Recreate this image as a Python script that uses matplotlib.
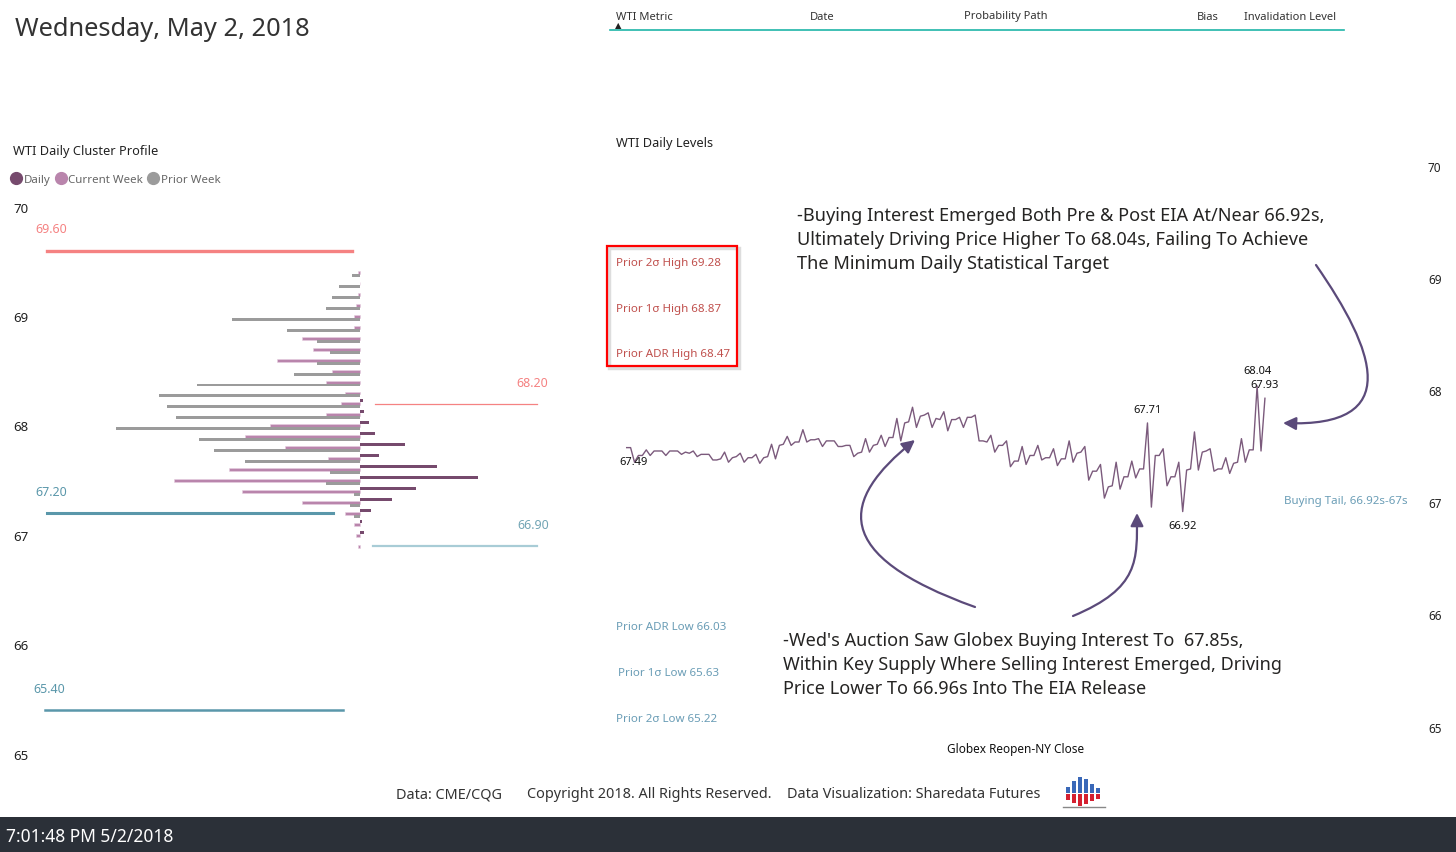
import matplotlib
matplotlib.use('Agg')
import matplotlib.pyplot as plt
import matplotlib.transforms as mtransforms
from matplotlib.patches import FancyArrowPatch, Rectangle
from matplotlib.path import Path
from matplotlib.lines import Line2D
import numpy as np

plt.rcParams['font.family'] = ['Noto Sans', 'DejaVu Sans']

W, H, DPI = 1456, 852, 100

# ---------------- data ----------------
profile_levels = [69.4, 69.3, 69.2, 69.1, 69.0, 68.9, 68.8, 68.7, 68.6, 68.5, 68.4, 68.3, 68.2,
                  68.1, 68.0, 67.9, 67.8, 67.7, 67.6, 67.5, 67.4, 67.3, 67.2, 67.1, 67.0, 66.9]
daily_volume = [0, 0, 0, 0, 0, 0, 0, 0, 0, 0, 0, 0, 3,
                4, 9, 15, 45, 19, 77, 118, 56, 32, 11, 2, 4, 0]
current_week_volume = [2, 0, 2, 4, 6, 6, 58, 47, 83, 28, 34, 15, 19,
                       34, 90, 115, 75, 32, 131, 186, 118, 58, 15, 6, 4, 2]
prior_week_volume = [8, 21, 28, 34, 128, 73, 43, 30, 43, 66, 163, 201, 193,
                     184, 244, 161, 146, 115, 30, 34, 6, 10, 6, 0, 0, 0]

profile_ref_values = [69.60, 68.20, 67.20, 66.90, 65.40]
profile_ticks = [70, 69, 68, 67, 66, 65]

wti_prices = [67.49, 67.49, 67.36, 67.42, 67.42, 67.47, 67.42, 67.46, 67.46, 67.46,
              67.42, 67.46, 67.46, 67.46, 67.43, 67.45, 67.44, 67.46, 67.41, 67.43,
              67.43, 67.43, 67.38, 67.38, 67.39, 67.45, 67.36, 67.40, 67.41, 67.44,
              67.36, 67.40, 67.40, 67.43, 67.35, 67.40, 67.41, 67.52, 67.39, 67.51,
              67.52, 67.59, 67.51, 67.54, 67.54, 67.65, 67.54, 67.56, 67.56, 67.57,
              67.50, 67.55, 67.55, 67.55, 67.50, 67.50, 67.51, 67.51, 67.41, 67.44,
              67.45, 67.57, 67.45, 67.51, 67.52, 67.60, 67.50, 67.58, 67.58, 67.75,
              67.55, 67.71, 67.72, 67.85, 67.67, 67.77, 67.78, 67.80, 67.67, 67.75,
              67.74, 67.81, 67.64, 67.74, 67.74, 67.76, 67.67, 67.76, 67.76, 67.78,
              67.55, 67.55, 67.54, 67.60, 67.45, 67.51, 67.51, 67.55, 67.32, 67.37,
              67.37, 67.50, 67.34, 67.42, 67.42, 67.51, 67.38, 67.40, 67.40, 67.48,
              67.33, 67.39, 67.39, 67.55, 67.36, 67.44, 67.45, 67.50, 67.20, 67.28,
              67.28, 67.34, 67.04, 67.14, 67.15, 67.36, 67.12, 67.23, 67.23, 67.37,
              67.22, 67.30, 67.30, 67.71, 66.96, 67.42, 67.42, 67.48, 67.15, 67.23,
              67.23, 67.36, 66.92, 67.29, 67.30, 67.63, 67.29, 67.45, 67.46, 67.48,
              67.28, 67.30, 67.30, 67.40, 67.26, 67.35, 67.36, 67.57, 67.36, 67.47,
              67.47, 68.04, 67.46, 67.93]
labelled_bars = [0, 133, 142, 161, 163]
levels_ticks = [70, 69, 68, 67, 66, 65]

high_levels = ["Prior 2\u03c3 High 69.28", "Prior 1\u03c3 High 68.87", "Prior ADR High 68.47"]
low_levels = ["Prior ADR Low 66.03", "Prior 1\u03c3 Low 65.63", "Prior 2\u03c3 Low 65.22"]
table_headers = ["WTI Metric", "Date", "Probability Path", "Bias", "Invalidation Level"]

note_top = ["-Buying Interest Emerged Both Pre & Post EIA At/Near 66.92s,",
            "Ultimately Driving Price Higher To 68.04s, Failing To Achieve",
            "The Minimum Daily Statistical Target"]
note_bottom = ["-Wed's Auction Saw Globex Buying Interest To  67.85s,",
               "Within Key Supply Where Selling Interest Emerged, Driving",
               "Price Lower To 66.96s Into The EIA Release"]

# ---------------- colours ----------------
C_DAILY = '#764a6d'
C_CUR = '#b985ac'
C_PRIOR = '#9b9b9b'
C_SALMON = '#f58282'
C_TEAL = '#5a97aa'
C_LTEAL = '#a8ccd6'
C_LINE = '#7b5a7c'
C_ARROW = '#5b4a7a'
C_HIGH = '#c0504d'
C_LOW = '#6a9db6'


def fx(px):
    return px / W


def fy(py):
    return 1 - py / H


def ft(py):
    # text baseline correction (centre of glyphs)
    return 1 - (py + 2) / H


fig = plt.figure(figsize=(W / DPI, H / DPI), dpi=DPI)
fig.patch.set_facecolor('white')

# ---------------- header ----------------
fig.text(fx(15), ft(27), "Wednesday, May 2, 2018", fontsize=18.3, color='#333333',
         va='center', ha='left')
hx = [616, 810, 964, 1197, 1244]
for x, t in zip(hx, table_headers):
    fig.text(fx(x), ft(15), t, fontsize=8, color='#333333', va='center', ha='left')
fig.text(fx(615), ft(24), '\u25b2', fontsize=6, color='#222222', va='center', ha='left')
fig.add_artist(Line2D([fx(610), fx(1344)], [fy(30), fy(30)], color='#1fb5a8', lw=1.2))

# ---------------- left: cluster profile ----------------
axL = fig.add_axes([fx(40), fy(754), (545 - 40) / W, (754 - 207) / H])
axL.set_xlim(-320, 185)
axL.set_ylim(65, 70)
axL.axis('off')
lv = np.array(profile_levels)
bh = 0.027
axL.barh(lv + 0.028, daily_volume, height=bh, color=C_DAILY, lw=0)
axL.barh(lv, -np.array(current_week_volume), height=bh, color=C_CUR,
         edgecolor='#e6cfe0', lw=0.4)
axL.barh(lv - 0.027, -np.array(prior_week_volume), height=bh, color=C_PRIOR, lw=0)

ref_specs = [
    (profile_ref_values[0], 47, 352, C_SALMON, C_SALMON, 2.4, 35, 'left'),
    (profile_ref_values[1], 375, 537, C_SALMON, C_SALMON, 0.9, 548, 'right'),
    (profile_ref_values[2], 47, 333, C_TEAL, C_TEAL, 2.2, 35, 'left'),
    (profile_ref_values[3], 373, 537, C_LTEAL, '#72a5b5', 1.6, 549, 'right'),
    (profile_ref_values[4], 45, 343, C_TEAL, C_TEAL, 1.8, 33, 'left'),
]
transL = mtransforms.blended_transform_factory(fig.transFigure, axL.transData)
for val, x0, x1, col, tcol, lw, lx, ha in ref_specs:
    axL.axhline(val, xmin=(x0 - 40) / 505, xmax=(x1 - 40) / 505, color=col, lw=lw)
    axL.annotate(f"{val:.2f}", xy=(fx(lx), val), xycoords=transL,
                 xytext=(0, 15), textcoords='offset points',
                 fontsize=9, color=tcol, ha=ha, va='center')
for t in profile_ticks:
    axL.annotate(str(t), xy=(fx(13), t), xycoords=transL, xytext=(0, -1.5),
                 textcoords='offset points', fontsize=9.5, color='#222222',
                 ha='left', va='center')

fig.text(fx(13), ft(149), "WTI Daily Cluster Profile", fontsize=9.2, color='#222222',
         va='center', ha='left')
handles = [Line2D([], [], marker='o', ls='', color=c, markersize=8.5)
           for c in (C_DAILY, C_CUR, C_PRIOR)]
fig.legend(handles, ["Daily", "Current Week", "Prior Week"], loc='center left',
           bbox_to_anchor=(fx(12), fy(180)), ncol=3, frameon=False, fontsize=8.3,
           handlelength=0.7, handletextpad=0.3, columnspacing=0.55,
           labelcolor='#666666', borderpad=0, borderaxespad=0)

# ---------------- right: daily levels ----------------
axR = fig.add_axes([fx(612), fy(727), (1420 - 612) / W, (727 - 166) / H])
axR.set_xlim(-3.75, 202.6)
axR.set_ylim(65, 70)
axR.axis('off')
xi = np.arange(len(wti_prices))
axR.plot(xi, wti_prices, color=C_LINE, lw=1.0)
for i in labelled_bars:
    above = i not in (0, 142)
    dx = 5 if i == 0 else 0
    dy = 9 if above else -11
    if i == 161:
        dy = 10.5
    axR.annotate(f"{wti_prices[i]:.2f}", xy=(xi[i], wti_prices[i]),
                 xytext=(dx, dy), textcoords='offset points',
                 fontsize=8, color='#111111', ha='center', va='center')
transR = mtransforms.blended_transform_factory(fig.transFigure, axR.transData)
for t in levels_ticks:
    axR.annotate(str(t), xy=(fx(1428), t), xycoords=transR, xytext=(0, -1.5),
                 textcoords='offset points', fontsize=8.5, color='#222222',
                 ha='left', va='center')
fig.text(fx(1016), ft(747), "Globex Reopen-NY Close", fontsize=8.5, color='#111111',
         ha='center', va='center')
fig.text(fx(616), ft(142), "WTI Daily Levels", fontsize=9.2, color='#222222',
         ha='left', va='center')

for y, t in zip([261, 307, 352], high_levels):
    fig.text(fx(616), ft(y), t, fontsize=8.3, color=C_HIGH, ha='left', va='center')
for x, y, t in zip([616, 618, 616], [626, 671, 717], low_levels):
    fig.text(fx(x), ft(y), t, fontsize=8.3, color=C_LOW, ha='left', va='center')
fig.text(fx(1284), ft(500), "Buying Tail, 66.92s-67s", fontsize=8.3, color=C_LOW,
         ha='left', va='center')

fig.add_artist(Rectangle((fx(609), fy(368)), (737 - 607) / W, (366 - 246) / H,
                         transform=fig.transFigure, facecolor='none',
                         edgecolor='#dddddd', lw=2.5))
fig.add_artist(Rectangle((fx(607), fy(366)), (737 - 607) / W, (366 - 246) / H,
                         transform=fig.transFigure, facecolor='none',
                         edgecolor='#ff0000', lw=1.6))

for k, line in enumerate(note_top):
    fig.text(fx(797), ft(214 + 24 * k), line, fontsize=13.1, color='#252423',
             ha='left', va='center')
for k, line in enumerate(note_bottom):
    fig.text(fx(783), ft(639 + 24 * k), line, fontsize=13.0, color='#252423',
             ha='left', va='center')


def curve_arrow(pts):
    verts = [(fx(x), fy(y)) for x, y in pts]
    path = Path(verts, [Path.MOVETO, Path.CURVE4, Path.CURVE4, Path.CURVE4])
    a = FancyArrowPatch(path=path, arrowstyle='-|>,head_length=0.7,head_width=0.35',
                        mutation_scale=11, transform=fig.transFigure,
                        color=C_ARROW, lw=1.6)
    fig.add_artist(a)


curve_arrow([(1316, 265), (1375, 350), (1405, 428), (1283, 423)])
curve_arrow([(975, 607), (830, 555), (840, 500), (915, 440)])
curve_arrow([(1073, 616), (1140, 588), (1137, 560), (1137, 513)])

# ---------------- footer ----------------
fig.text(fx(396), ft(793), "Data: CME/CQG", fontsize=10.4, color='#333333', ha='left', va='center')
fig.text(fx(527), ft(793), "Copyright 2018. All Rights Reserved.", fontsize=10.4,
         color='#333333', ha='left', va='center')
fig.text(fx(787), ft(793), "Data Visualization: Sharedata Futures", fontsize=10.4,
         color='#333333', ha='left', va='center')

# small logo
for x, top in zip([1066, 1072, 1078, 1084, 1090, 1096], [787, 781, 777, 779, 784, 788]):
    fig.add_artist(Rectangle((fx(x), fy(793)), 4 / W, (793 - top) / H,
                             transform=fig.transFigure, color='#3a68b8', lw=0))
for x, bot in zip([1066, 1072, 1078, 1084, 1090, 1096], [800, 803, 806, 804, 801, 799]):
    fig.add_artist(Rectangle((fx(x), fy(bot)), 4 / W, (bot - 794) / H,
                             transform=fig.transFigure, color='#d42030', lw=0))
fig.add_artist(Line2D([fx(1063), fx(1105)], [fy(807), fy(807)], color='#888888', lw=1))

fig.add_artist(Rectangle((0, 0), 1, (852 - 817) / H, transform=fig.transFigure,
                         color='#2b3038', lw=0))
fig.text(fx(6), ft(835), "7:01:48 PM 5/2/2018", fontsize=12.5, color='white',
         ha='left', va='center')

fig.savefig('out.png', dpi=DPI)
